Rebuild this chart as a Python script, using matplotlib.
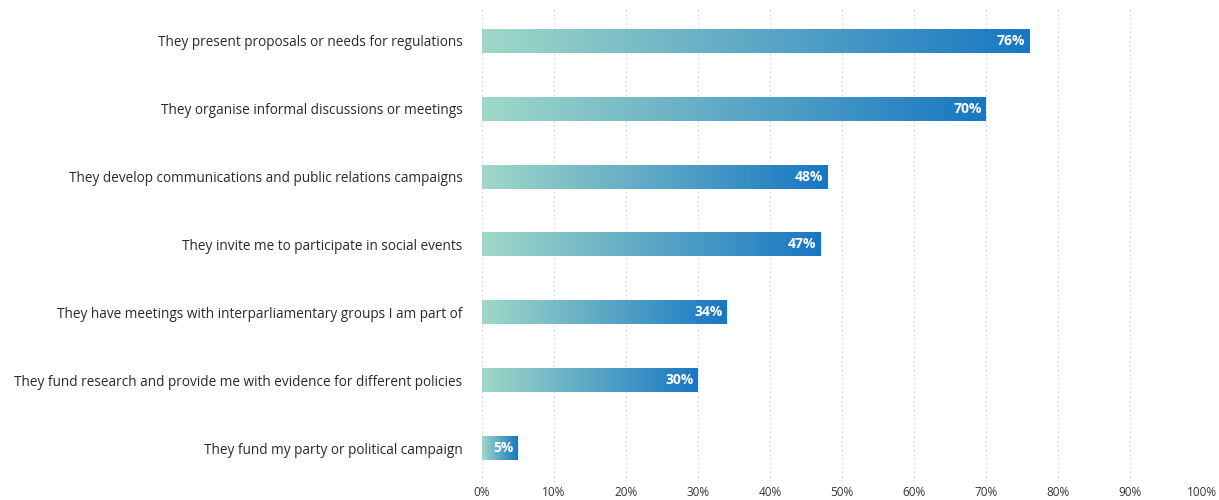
import numpy as np
import matplotlib.pyplot as plt
from matplotlib.colors import LinearSegmentedColormap

categories = [
    "They present proposals or needs for regulations",
    "They organise informal discussions or meetings",
    "They develop communications and public relations campaigns",
    "They invite me to participate in social events",
    "They have meetings with interparliamentary groups I am part of",
    "They fund research and provide me with evidence for different policies",
    "They fund my party or political campaign",
]
values = [76, 70, 48, 47, 34, 30, 5]
ticks = [0, 10, 20, 30, 40, 50, 60, 70, 80, 90, 100]

plt.rcParams['font.family'] = ['Open Sans', 'DejaVu Sans']

cmap = LinearSegmentedColormap.from_list('tealblue', ['#a0d8c8', '#1877c3'])
grad = np.linspace(0, 1, 256).reshape(1, -1)

fig = plt.figure(figsize=(12.19, 5.0), dpi=100)
ax = fig.add_axes([482 / 1219, 18 / 500, 720 / 1219, 475 / 500])

half_h = 0.175
for i, (cat, v) in enumerate(zip(categories, values)):
    ax.imshow(grad, cmap=cmap, aspect='auto', interpolation='bicubic',
              extent=[0, v, i + half_h, i - half_h], zorder=2)
    ax.text(v - 0.6, i, f"{v}%", ha='right', va='center', color='white',
            fontsize=10, fontweight='bold', zorder=3)

ax.set_xlim(0, 100)
ax.set_ylim(len(values) - 0.5, -0.5)
ax.set_yticks(range(len(categories)))
ax.set_yticklabels(categories, fontsize=9.8, color='#2a2a2a')
ax.set_xticks(ticks)
ax.set_xticklabels([f"{t}%" for t in ticks], fontsize=8.5, color='#333333')
ax.tick_params(axis='both', length=0)
ax.tick_params(axis='y', pad=14)
ax.tick_params(axis='x', pad=3)
ax.grid(axis='x', color='#d5d5d5', linestyle=(0, (1.5, 2.5)), linewidth=0.8, zorder=0)
ax.set_axisbelow(True)
for s in ax.spines.values():
    s.set_visible(False)

fig.savefig('out.png', dpi=100)
